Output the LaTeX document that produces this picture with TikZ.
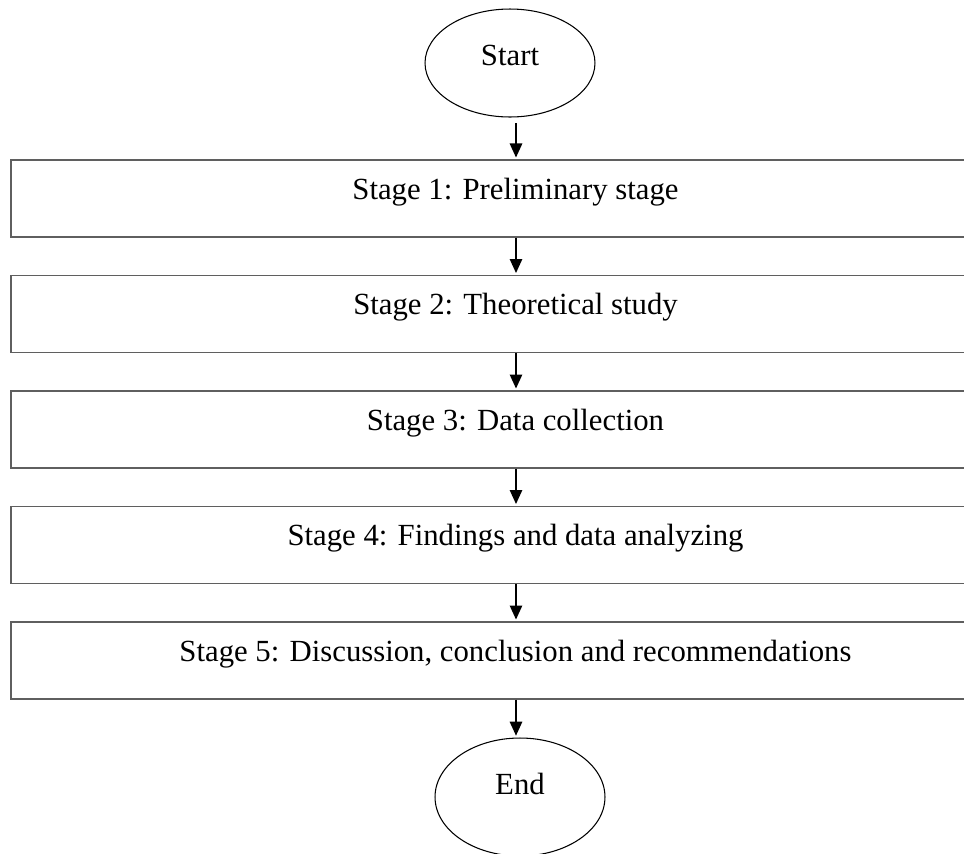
\documentclass[tikz,border=0pt]{standalone}
\usepackage{fontspec}
\setmainfont{Liberation Serif}
\definecolor{BoxGray}{RGB}{95,95,95}
\usetikzlibrary{
    shapes.geometric,
    arrows.meta,
    positioning,
}

\begin{document}
\begin{tikzpicture}[x=0.02cm, y=-0.02cm,
        terminal/.style={draw, line width=0.6pt, ellipse, minimum width=3.4cm, minimum height=2.16cm, inner sep=0pt, text height=12pt, text depth=9pt, font=\fontsize{17.5}{21}\selectfont},
        stagebox/.style={draw=BoxGray, line width=0.8pt, rectangle, minimum width=20.18cm, minimum height=1.54cm, inner sep=0pt, text height=12pt, text depth=11pt, font=\fontsize{17.5}{21}\selectfont},
        flow/.style={-{Triangle[width=7pt, length=8pt]}, line width=1.1pt, shorten >=1pt},
    ]
        \clip (0, 0) rectangle (964, 853);
        \coordinate (axis) at (516, 0);
        % terminals and stages
        \node[terminal] (start) at (510, 63) {Start};
        \node[stagebox] (s1) at (515.5, 198.5) {Stage 1: Preliminary stage};
        \node[stagebox] (s2) at (515.5, 314) {Stage 2: Theoretical study};
        \node[stagebox] (s3) at (515.5, 429.5) {Stage 3: Data collection};
        \node[stagebox] (s4) at (515.5, 545) {Stage 4: Findings and data analyzing};
        \node[stagebox] (s5) at (515.5, 660.5) {Stage 5: Discussion, conclusion and recommendations};
        \node[terminal, minimum height=2.36cm, text depth=15pt] (finish) at (520, 797) {End};
        % flow
        \draw[flow, shorten <=3.4pt] (start.south -| axis) -- (s1.north -| axis);
        \draw[flow] (s1.south -| axis) -- (s2.north -| axis);
        \draw[flow] (s2.south -| axis) -- (s3.north -| axis);
        \draw[flow] (s3.south -| axis) -- (s4.north -| axis);
        \draw[flow] (s4.south -| axis) -- (s5.north -| axis);
        \draw[flow] (s5.south -| axis) -- (finish.north -| axis);
    \end{tikzpicture}
\end{document}
